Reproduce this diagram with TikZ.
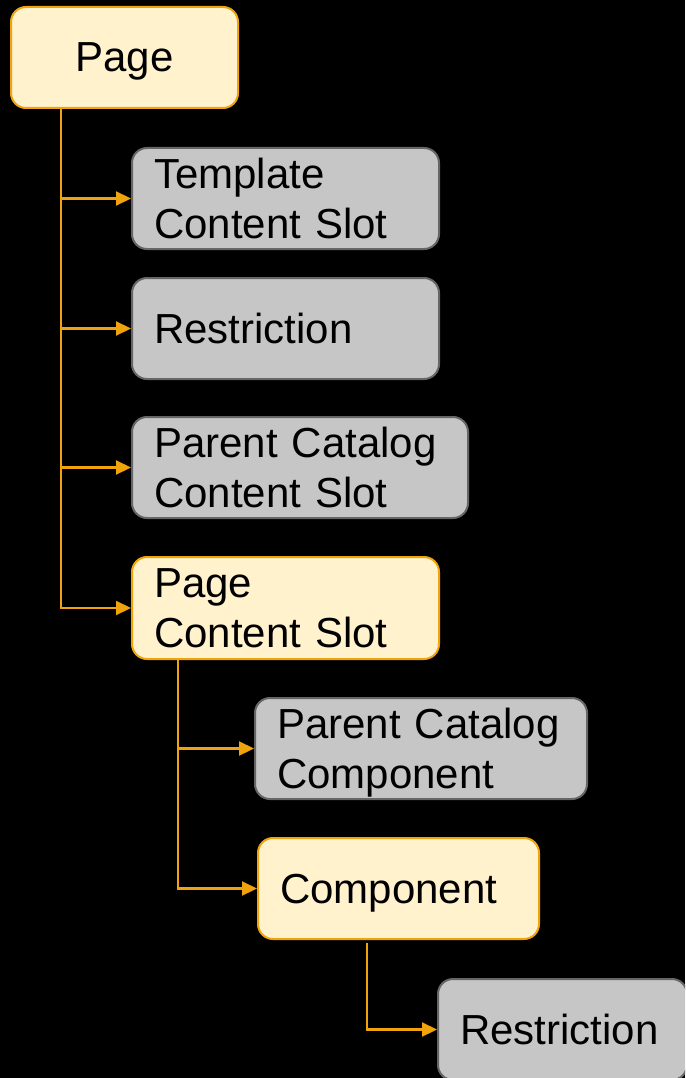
\documentclass[tikz,border=0pt]{standalone}
\usepackage{fontspec}
\setmainfont{Liberation Sans}
\usetikzlibrary{arrows.meta}
\definecolor{yfill}{HTML}{FFF2CC}
\definecolor{orng}{HTML}{F0A30A}
\definecolor{gfill}{HTML}{C6C6C6}
\definecolor{gstroke}{HTML}{666666}
\newcommand{\nodesc}[1]{\raisebox{0pt}[\height][0pt]{#1}}
\begin{document}
\begin{tikzpicture}[x=1pt,y=-1pt,
  box/.style={line width=2pt, rounded corners=15pt, anchor=north west,
    inner xsep=22pt, inner ysep=0pt, align=left,
    font=\fontsize{42}{50}\selectfont, minimum height=101pt},
  ybox/.style={box, draw=orng, fill=yfill},
  gbox/.style={box, draw=gstroke, fill=gfill},
  conn/.style={draw=orng, line width=2.2pt, -{Triangle[length=15pt,width=14pt,fill=orng]}}]
\fill[black] (0,0) rectangle (685,1078);
\useasboundingbox (0,0) rectangle (685,1078);
\clip (0,0) rectangle (685,1078);

\node[ybox, minimum width=227pt, text width=183pt, align=center] (page) at (10,6) {\nodesc{Page}};
\node[gbox, minimum width=307pt, text width=263pt] (tcs) at (131,147) {Template\\Content Slot};
\node[gbox, minimum width=307pt, text width=263pt] (res1) at (131,277) {Restriction};
\node[gbox, minimum width=336pt, text width=292pt] (pccs) at (131,416) {Parent Catalog\\Content Slot};
\node[ybox, minimum width=307pt, text width=263pt, minimum height=102pt] (pcs) at (131,556) {Page\\Content Slot};
\node[gbox, minimum width=332pt, text width=288pt] (pcc) at (254,697) {Parent Catalog\\\nodesc{Component}};
\node[ybox, minimum width=281pt, text width=237pt] (comp) at (257,837) {\nodesc{Component}};
\node[gbox, minimum width=249pt, text width=205pt] (res2) at (437,978) {Restriction};

\coordinate (t1) at ([xshift=51pt]page.south west);
\coordinate (t2) at ([xshift=47pt]pcs.south west);
\coordinate (t3) at ([xshift=110pt,yshift=-3pt]comp.south west);

\draw[conn] (t1) |- (tcs.west);
\draw[conn] (t1) |- (res1.west);
\draw[conn] (t1) |- (pccs.west);
\draw[conn] (t1) |- (pcs.west);
\draw[conn] (t2) |- (pcc.west);
\draw[conn] (t2) |- (comp.west);
\draw[conn] (t3) |- (res2.west);
\end{tikzpicture}
\end{document}
